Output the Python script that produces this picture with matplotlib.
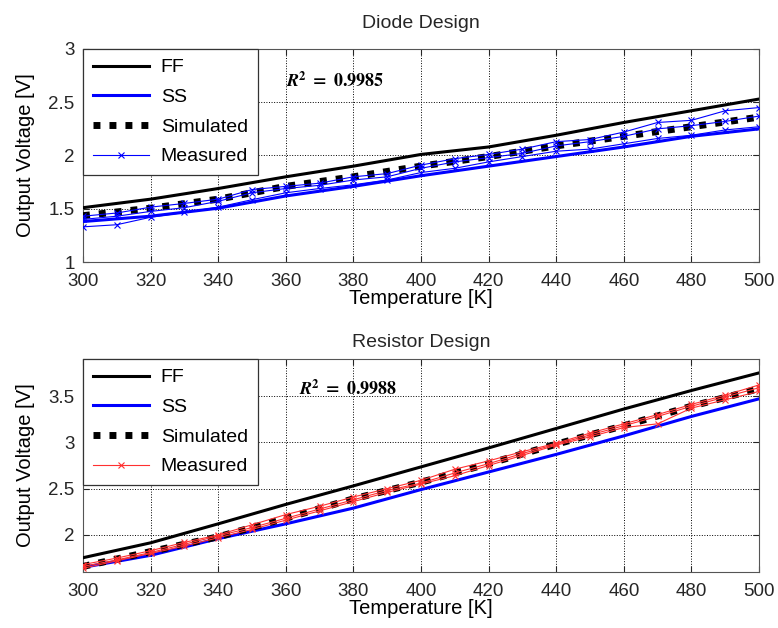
import numpy as np
import matplotlib
matplotlib.use("Agg")
import matplotlib.pyplot as plt

plt.rcParams['font.family'] = ['Liberation Sans', 'DejaVu Sans']
plt.rcParams['mathtext.fontset'] = 'stix'

# corner curves, 20 K steps
temp_c = [300, 320, 340, 360, 380, 400, 420, 440, 460, 480, 500]
# measured curves, 10 K steps
temp_m = list(range(300, 501, 10))

diode_ff = [1.51, 1.59, 1.69, 1.80, 1.90, 2.01, 2.08, 2.19, 2.31, 2.42, 2.53]
diode_ss = [1.38, 1.43, 1.505, 1.62, 1.71, 1.81, 1.90, 1.99, 2.08, 2.18, 2.25]
diode_sim = [1.435, 1.505, 1.59, 1.71, 1.80, 1.90, 1.99, 2.09, 2.18, 2.27, 2.36]
diode_meas = [
    [1.43, 1.46, 1.515, 1.55, 1.59, 1.68, 1.71, 1.74, 1.80, 1.83, 1.91,
     1.97, 2.01, 2.06, 2.13, 2.15, 2.22, 2.31, 2.33, 2.42, 2.45],
    [1.40, 1.43, 1.475, 1.51, 1.57, 1.65, 1.69, 1.72, 1.77, 1.80, 1.88,
     1.94, 1.98, 2.02, 2.09, 2.13, 2.18, 2.25, 2.28, 2.32, 2.37],
    [1.33, 1.35, 1.42, 1.465, 1.515, 1.585, 1.65, 1.69, 1.725, 1.77, 1.84,
     1.88, 1.94, 1.99, 2.04, 2.06, 2.11, 2.16, 2.19, 2.24, 2.27],
]

res_ff = [1.754, 1.915, 2.12, 2.33, 2.53, 2.735, 2.94, 3.15, 3.36, 3.56, 3.75]
res_ss = [1.65, 1.78, 1.96, 2.12, 2.29, 2.49, 2.68, 2.87, 3.07, 3.28, 3.47]
res_sim = [1.66, 1.82, 1.98, 2.18, 2.39, 2.57, 2.77, 2.98, 3.18, 3.39, 3.58]
res_meas = [
    [1.68, 1.75, 1.83, 1.92, 2.00, 2.11, 2.22, 2.31, 2.41, 2.50, 2.59,
     2.71, 2.80, 2.90, 2.99, 3.10, 3.20, 3.30, 3.41, 3.51, 3.62],
    [1.66, 1.73, 1.81, 1.90, 1.99, 2.08, 2.18, 2.28, 2.38, 2.48, 2.56,
     2.67, 2.77, 2.88, 2.98, 3.08, 3.18, 3.28, 3.39, 3.49, 3.59],
    [1.64, 1.72, 1.80, 1.88, 1.97, 2.06, 2.16, 2.26, 2.36, 2.46, 2.55,
     2.64, 2.75, 2.86, 2.97, 3.06, 3.16, 3.20, 3.37, 3.46, 3.55],
]

fig = plt.figure(figsize=(7.78, 6.28), dpi=100)
ax1 = fig.add_axes([0.1067, 0.5828, 0.8689, 0.3392])
ax2 = fig.add_axes([0.1067, 0.0892, 0.8689, 0.3391])


def draw(ax, ff, ss, sim, meas, mcolor, title, ylim, yticks, r2, r2pos, tpad):
    ax.plot(temp_c, ff, color='black', lw=2.2, label='FF', zorder=3)
    ax.plot(temp_c, ss, color='blue', lw=2.2, label='SS', zorder=3)
    ax.plot(temp_c, sim, color='black', lw=5, linestyle=(0, (1, 1.3)),
            label='Simulated', zorder=4)
    for i, m in enumerate(meas):
        ax.plot(temp_m, m, color=mcolor, lw=0.8, marker='x', ms=5, mew=0.8,
                label='Measured' if i == 0 else None, zorder=5)
    ax.set_xlim(300, 500)
    ax.set_ylim(*ylim)
    ax.set_xticks(range(300, 501, 20))
    ax.set_yticks(yticks)
    ax.set_yticklabels([f'{t:g}' for t in yticks])
    ax.grid(True, color='black', linestyle=':', lw=0.7)
    ax.tick_params(direction='in', top=True, right=True, labelsize=13.5,
                   length=4, colors='#262626')
    ax.tick_params(axis='x', pad=8)
    ax.tick_params(axis='y', pad=6)
    for s in ax.spines.values():
        s.set_color('#555555')
    ax.set_title(title, fontsize=14, pad=tpad, color='#262626')
    ax.set_xlabel('Temperature [K]', fontsize=14.5, labelpad=-1)
    ax.set_ylabel('Output Voltage [V]', fontsize=14.5, labelpad=10)
    leg = ax.legend(loc='upper left', fontsize=14, fancybox=False,
                    framealpha=1, edgecolor='#333333', handlelength=2.9,
                    handletextpad=0.6, labelspacing=0.62, borderpad=0.5,
                    borderaxespad=0)
    leg.get_frame().set_linewidth(0.9)
    ax.text(r2pos[0], r2pos[1], r2, transform=ax.transAxes, fontsize=13,
            ha='left', va='center')


draw(ax1, diode_ff, diode_ss, diode_sim, diode_meas, 'blue', 'Diode Design',
     (1, 3), [1, 1.5, 2, 2.5, 3], r'$\mathbfit{R}^{\mathbf{2}}\mathbf{\ =\ 0.9985}$',
     (0.30, 0.85), 15)
draw(ax2, res_ff, res_ss, res_sim, res_meas, '#ff3030', 'Resistor Design',
     (1.6, 3.9), [2, 2.5, 3, 3.5], r'$\mathbfit{R}^{\mathbf{2}}\mathbf{\ =\ 0.9988}$',
     (0.32, 0.86), 9)

fig.savefig('out.png', dpi=100)
